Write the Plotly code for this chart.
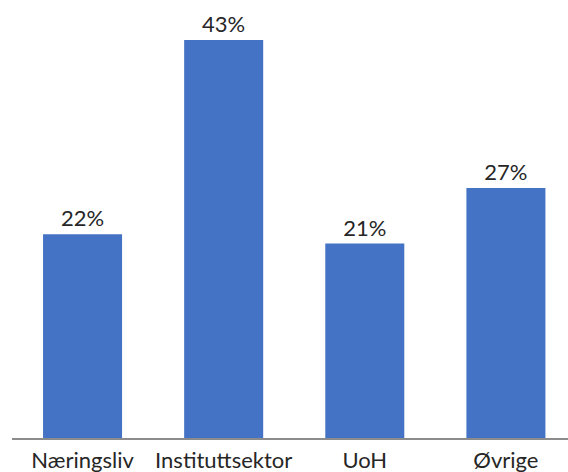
import plotly.graph_objects as go

categories = ["Næringsliv", "Instituttsektor", "UoH", "Øvrige"]
shares = [22, 43, 21, 27]
labels = [f"{v}%" for v in shares]

fig = go.Figure(
    go.Bar(
        x=categories,
        y=shares,
        text=labels,
        textposition="outside",
        textfont=dict(family="Lato, Carlito, sans-serif", size=22, color="#262626"),
        marker=dict(color="#4472C4", line=dict(width=0)),
        cliponaxis=False,
        width=0.56,
    )
)

fig.update_layout(
    width=568,
    height=472,
    margin=dict(l=12, r=0, t=0, b=34),
    paper_bgcolor="white",
    plot_bgcolor="white",
    showlegend=False,
    font=dict(family="Lato, Carlito, sans-serif", size=22, color="#262626"),
    xaxis=dict(
        type="category",
        range=[-0.5, 3.44],
        showline=True,
        linecolor="#8c8c8c",
        linewidth=2,
        showgrid=False,
        ticks="",
        ticklabelstandoff=2,
        tickfont=dict(size=22, color="#262626"),
    ),
    yaxis=dict(
        range=[0, 47.32],
        visible=False,
        showgrid=False,
        zeroline=False,
    ),
)

fig.write_html("out.html")
